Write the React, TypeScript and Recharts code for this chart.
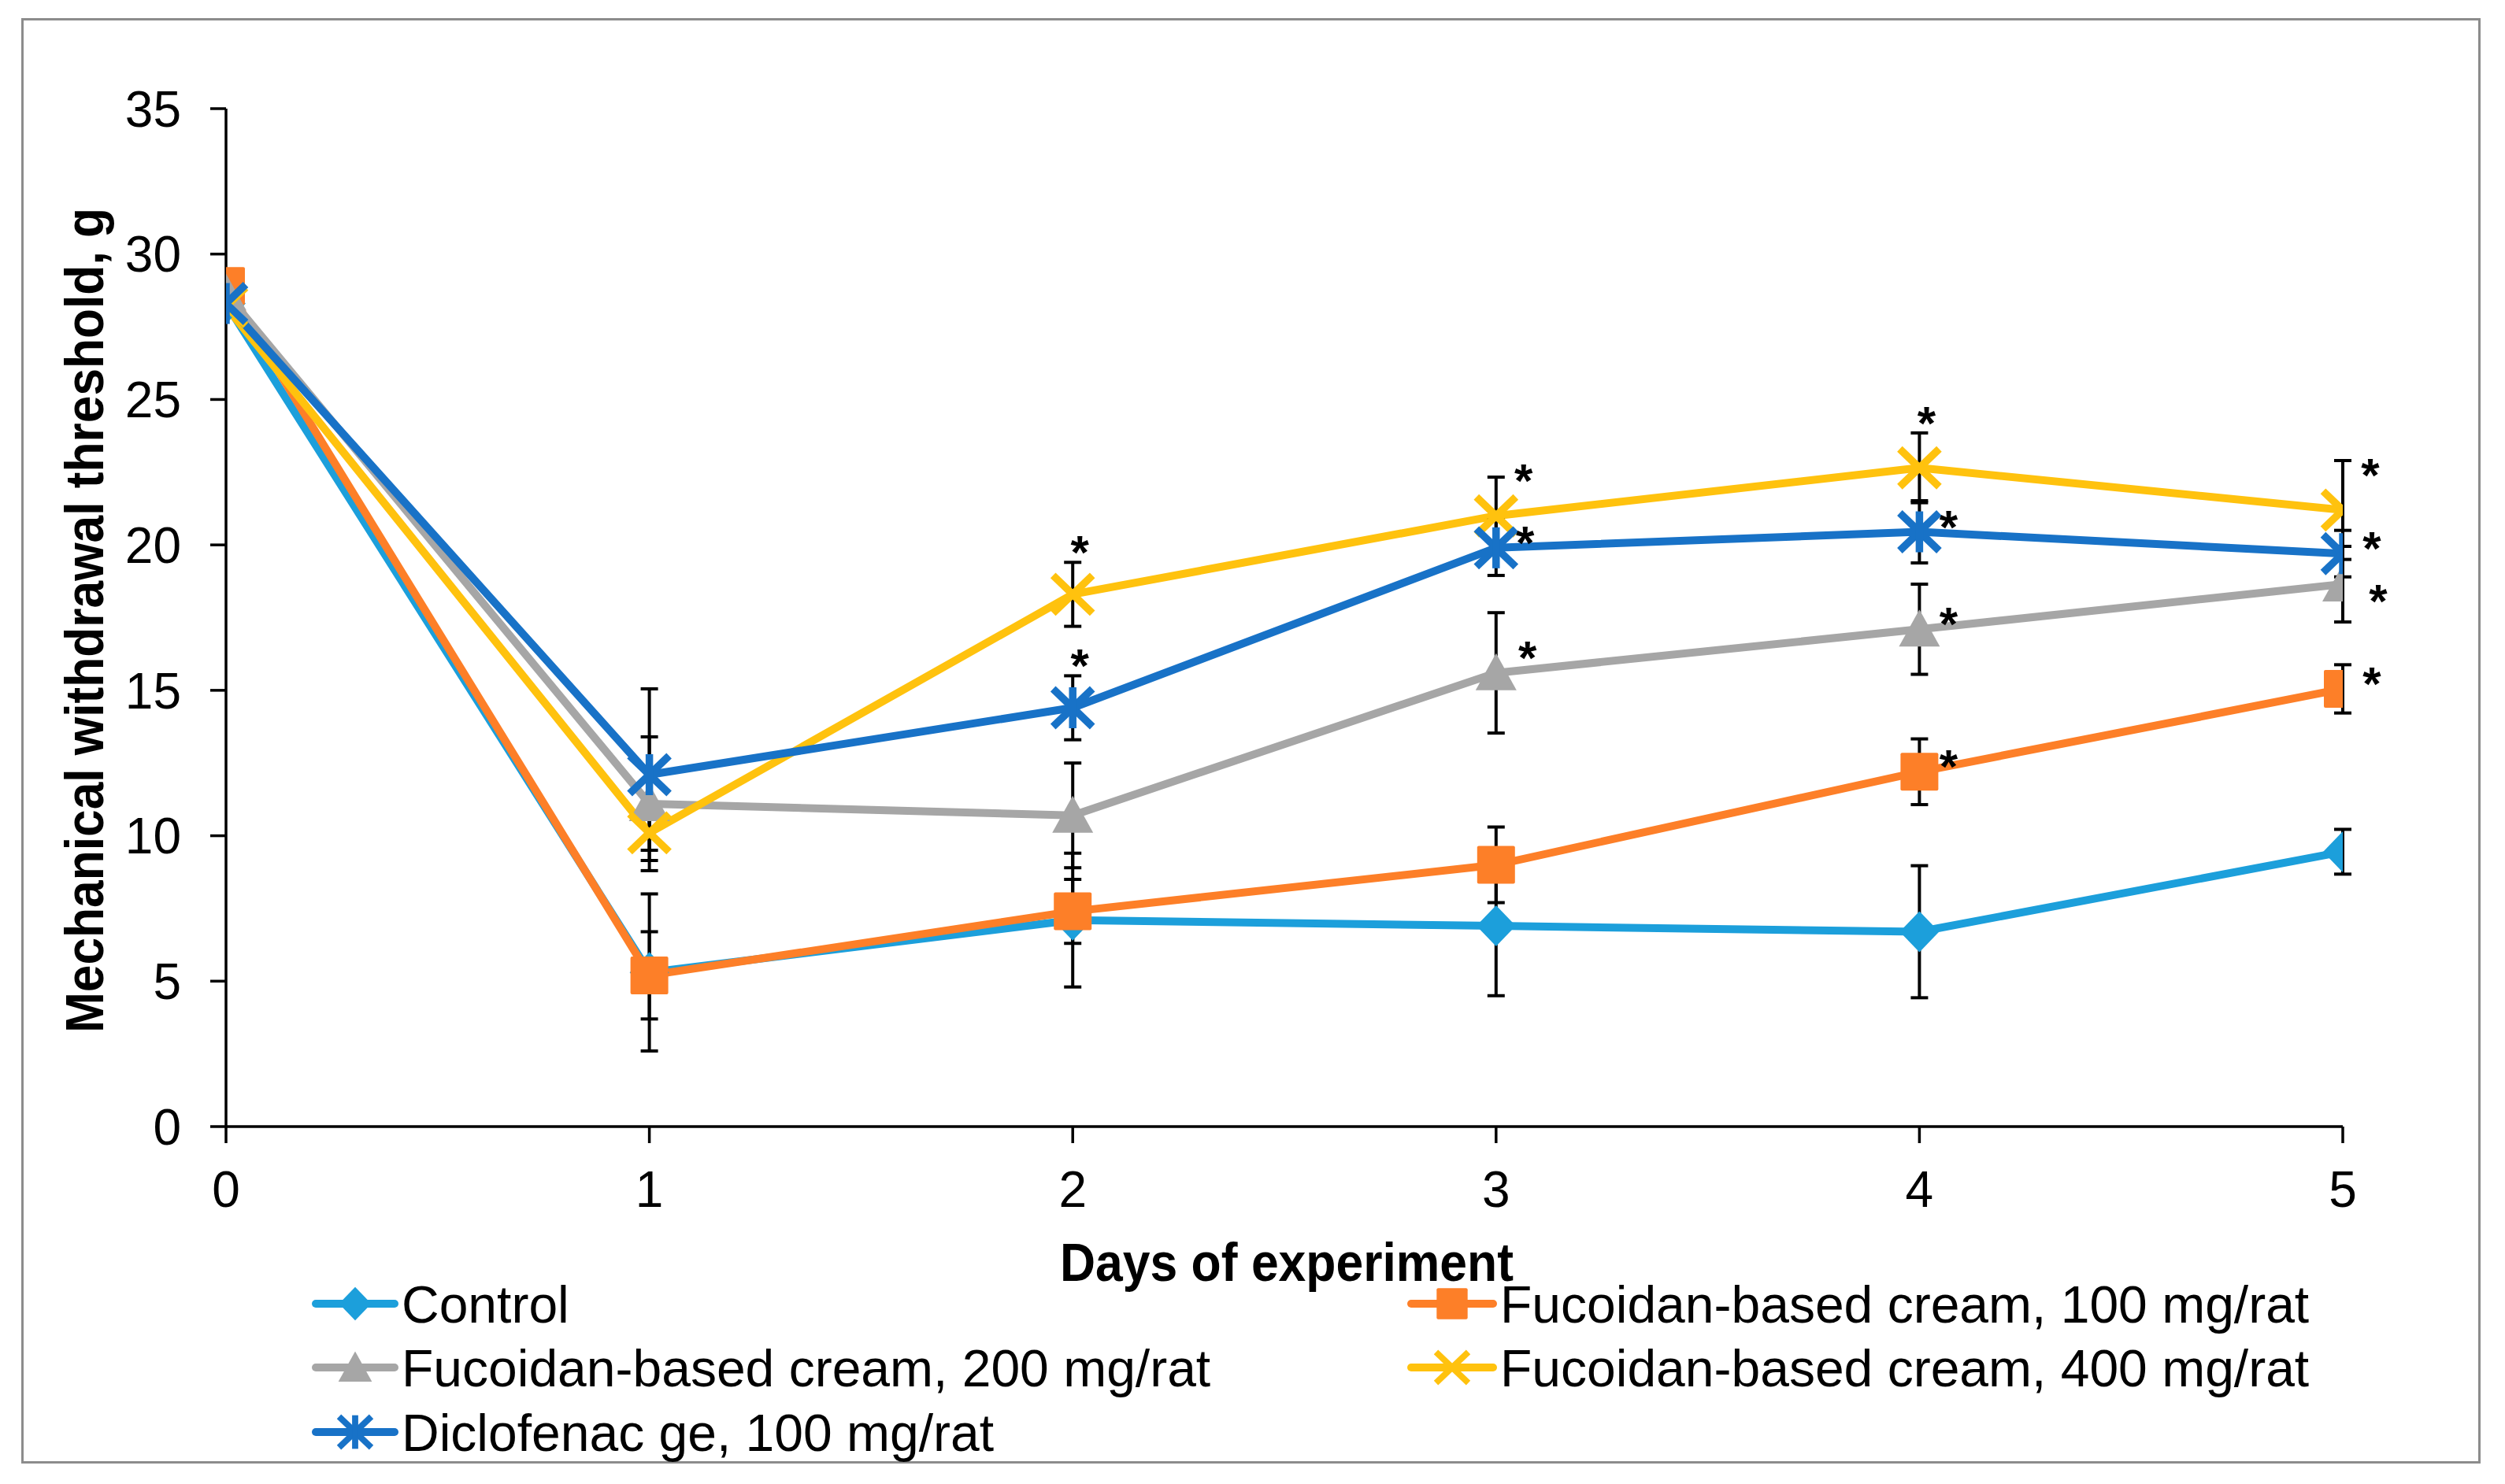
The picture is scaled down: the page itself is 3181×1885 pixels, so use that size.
import React from 'react';
import { LineChart, Line, XAxis, YAxis, ErrorBar, LabelList, Legend } from 'recharts';

// ---------- data ----------
const days = [0, 1, 2, 3, 4, 5];
const yTicks = [0, 5, 10, 15, 20, 25, 30, 35];

const seriesNames = [
  'Control',
  'Fucoidan-based cream, 100 mg/rat',
  'Fucoidan-based cream, 200 mg/rat',
  'Fucoidan-based cream, 400 mg/rat',
  'Diclofenac ge, 100 mg/rat',
];

const controlMean = [28.3, 5.3, 7.1, 6.9, 6.7, 9.45];
const controlSd = [0, 2.7, 2.3, 2.4, 2.27, 0.77];
const controlSig = [0, 0, 0, 0, 0, 0];

const cream100Mean = [28.9, 5.2, 7.4, 9.0, 12.2, 15.05];
const cream100Sd = [0, 1.5, 1.1, 1.3, 1.13, 0.83];
const cream100Sig = [0, 0, 0, 0, 1, 1];

const cream200Mean = [28.65, 11.1, 10.7, 15.6, 17.1, 18.65];
const cream200Sd = [0, 2.3, 1.8, 2.07, 1.55, 1.3];
const cream200Sig = [0, 0, 0, 1, 1, 1];

const cream400Mean = [28.2, 10.1, 18.3, 21.0, 22.65, 21.2];
const cream400Sd = [0, 0.6, 1.1, 1.33, 1.2, 1.7];
const cream400Sig = [0, 0, 1, 1, 1, 1];

const diclofenacMean = [28.3, 12.1, 14.4, 19.9, 20.45, 19.7];
const diclofenacSd = [0, 2.95, 1.1, 0.95, 1.07, 0.8];
const diclofenacSig = [0, 0, 1, 1, 1, 1];

const tableData = days.map((d, i) => ({
  day: d,
  control: controlMean[i],
  controlSd: controlSd[i],
  controlSig: controlSig[i],
  c100: cream100Mean[i],
  c100Sd: cream100Sd[i],
  c100Sig: cream100Sig[i],
  c200: cream200Mean[i],
  c200Sd: cream200Sd[i],
  c200Sig: cream200Sig[i],
  c400: cream400Mean[i],
  c400Sd: cream400Sd[i],
  c400Sig: cream400Sig[i],
  diclo: diclofenacMean[i],
  dicloSd: diclofenacSd[i],
  dicloSig: diclofenacSig[i],
}));

// ---------- style / layout ----------
const W = 3181;
const H = 1885;
const PLOT_LEFT = 287;
const PLOT_RIGHT = 2975;
const PLOT_TOP = 138;
const PLOT_BOTTOM = 1431;
const Y_AXIS_W = 200;
const X_AXIS_H = 100;
const PX_PER_UNIT = (PLOT_BOTTOM - PLOT_TOP) / 35;
const FONT = '"Liberation Sans", Arial, Helvetica, sans-serif';
const LINE_W = 10;
const MARK_W = 9.5;

type Shape = 'diamond' | 'square' | 'triangle' | 'x' | 'star';

const seriesStyle: { key: string; color: string; shape: Shape; star: string[] }[] = [
  { key: 'control', color: '#1C9FDB', shape: 'diamond', star: ['', '', '', '', '', ''] },
  { key: 'c100', color: '#FD7F28', shape: 'square', star: ['', '', '', '', 'right', 'right'] },
  { key: 'c200', color: '#A6A6A6', shape: 'triangle', star: ['', '', '', 'upright2', 'right', 'low'] },
  { key: 'c400', color: '#FFC20E', shape: 'x', star: ['', '', 'top', 'upright', 'top', 'upright'] },
  { key: 'diclo', color: '#1872C7', shape: 'star', star: ['', '', 'top', 'right', 'right', 'right'] },
];

function marker(shape: Shape, cx: number, cy: number, color: string, s: number, key?: string) {
  if (cx == null || cy == null || isNaN(cx) || isNaN(cy)) return <g key={key} />;
  switch (shape) {
    case 'diamond':
      return (
        <polygon
          key={key}
          points={`${cx},${cy - 26 * s} ${cx + 25 * s},${cy} ${cx},${cy + 26 * s} ${cx - 25 * s},${cy}`}
          fill={color}
        />
      );
    case 'square':
      return <rect key={key} x={cx - 24 * s} y={cy - 24 * s} width={48 * s} height={48 * s} rx={2} fill={color} />;
    case 'triangle':
      return (
        <polygon
          key={key}
          points={`${cx},${cy - 25 * s} ${cx + 26 * s},${cy + 22 * s} ${cx - 26 * s},${cy + 22 * s}`}
          fill={color}
        />
      );
    case 'x':
      return (
        <g key={key} stroke={color} strokeWidth={MARK_W * s}>
          <line x1={cx - 25 * s} y1={cy - 24 * s} x2={cx + 25 * s} y2={cy + 24 * s} />
          <line x1={cx - 25 * s} y1={cy + 24 * s} x2={cx + 25 * s} y2={cy - 24 * s} />
        </g>
      );
    case 'star':
    default:
      return (
        <g key={key} stroke={color} strokeWidth={MARK_W * s}>
          <line x1={cx - 25 * s} y1={cy - 24 * s} x2={cx + 25 * s} y2={cy + 24 * s} />
          <line x1={cx - 25 * s} y1={cy + 24 * s} x2={cx + 25 * s} y2={cy - 24 * s} />
          <line x1={cx} y1={cy - 26 * s} x2={cx} y2={cy + 26 * s} />
        </g>
      );
  }
}

const makeDot = (shape: Shape, color: string) => (props: any) => {
  const { cx, cy, index } = props;
  return marker(shape, cx, cy, color, 1, `dot-${shape}-${index}`);
};

const makeStar = (sig: number[], sd: number[], place: string[]) => (props: any) => {
  const index = props.index;
  const x = props.x ?? props.viewBox?.x;
  const y = props.y ?? props.viewBox?.y;
  if (index == null || !sig[index] || x == null || y == null) return null;
  const p = place[index];
  let cx = x + 37;
  let cy = y - 20;
  if (p === 'top') {
    cx = x + 9;
    cy = y - sd[index] * PX_PER_UNIT - 26;
  } else if (p === 'upright') {
    cx = x + 35;
    cy = y - 58;
  } else if (p === 'upright2') {
    cx = x + 40;
    cy = y - 33;
  } else if (p === 'low') {
    cx = x + 45;
    cy = y + 8;
  }
  return (
    <text
      key={`star-${index}`}
      x={cx}
      y={cy + 34}
      textAnchor="middle"
      fontSize={60}
      fontWeight="bold"
      fontFamily={FONT}
      fill="#000"
    >
      *
    </text>
  );
};

const legendSlots = [
  { x1: 401, x2: 501, mx: 451, tx: 510, row: 0 },
  { x1: 1792, x2: 1896, mx: 1844, tx: 1905, row: 0 },
  { x1: 401, x2: 501, mx: 451, tx: 510, row: 1 },
  { x1: 1792, x2: 1896, mx: 1844, tx: 1905, row: 1 },
  { x1: 401, x2: 501, mx: 451, tx: 510, row: 2 },
];
const LEGEND_TOP = 1600;
const legendRows = [1656, 1737, 1819];

const renderLegend = (props: any) => {
  const payload: any[] = props.payload || [];
  return (
    <svg width={W} height={H - LEGEND_TOP} style={{ display: 'block' }}>
      {seriesStyle.map((st, i) => {
        const slot = legendSlots[i];
        const item = payload.find((p) => p && p.dataKey === st.key);
        const label = item && item.value != null ? item.value : seriesNames[i];
        const y = legendRows[slot.row] - LEGEND_TOP;
        return (
          <g key={`leg-${i}`}>
            <line x1={slot.x1} y1={y} x2={slot.x2} y2={y} stroke={st.color} strokeWidth={LINE_W} strokeLinecap="round" />
            {marker(st.shape, slot.mx, y, st.color, 0.82)}
            <text x={slot.tx} y={y + 24} fontSize={66} fontFamily={FONT} fill="#000">
              {label}
            </text>
          </g>
        );
      })}
    </svg>
  );
};

const renderYLabel = () => (
  <text
    x={131}
    y={788}
    transform="rotate(-90, 131, 788)"
    textAnchor="middle"
    fontSize={68}
    fontWeight="bold"
    fontFamily={FONT}
    fill="#000"
    textLength={1048}
    lengthAdjust="spacingAndGlyphs"
  >
    Mechanical withdrawal threshold, g
  </text>
);

const renderXLabel = () => (
  <text
    x={1634}
    y={1627}
    textAnchor="middle"
    fontSize={68}
    fontWeight="bold"
    fontFamily={FONT}
    fill="#000"
    textLength={576}
    lengthAdjust="spacingAndGlyphs"
  >
    Days of experiment
  </text>
);

const sdKeys = ['controlSd', 'c100Sd', 'c200Sd', 'c400Sd', 'dicloSd'];
const sigKeys = ['controlSig', 'c100Sig', 'c200Sig', 'c400Sig', 'dicloSig'];
const sdArrays = [controlSd, cream100Sd, cream200Sd, cream400Sd, diclofenacSd];
const sigArrays = [controlSig, cream100Sig, cream200Sig, cream400Sig, diclofenacSig];

export default function App() {
  return (
    <div style={{ position: 'absolute', left: 0, top: 0, width: W, height: H, background: '#fff' }}>
      <div
        style={{
          position: 'absolute',
          left: 27,
          top: 23,
          width: 3123,
          height: 1836,
          border: '3px solid #8C8C8C',
          boxSizing: 'border-box',
        }}
      />
      <div style={{ position: 'absolute', left: 0, top: 0 }}>
        <LineChart
          width={W}
          height={H}
          data={tableData}
          margin={{
            top: PLOT_TOP,
            left: PLOT_LEFT - Y_AXIS_W,
            right: W - PLOT_RIGHT,
            bottom: H - PLOT_BOTTOM - X_AXIS_H,
          }}
        >
          <XAxis
            dataKey="day"
            type="number"
            domain={[0, 5]}
            ticks={days}
            height={X_AXIS_H}
            axisLine={{ stroke: '#000', strokeWidth: 3.5 }}
            tickLine={{ stroke: '#000', strokeWidth: 3.5 }}
            tickSize={21}
            tickMargin={36}
            tick={{ fontSize: 64, fontFamily: FONT, fill: '#000' }}
            label={renderXLabel}
            allowDataOverflow
          />
          <YAxis
            type="number"
            domain={[0, 35]}
            ticks={yTicks}
            width={Y_AXIS_W}
            axisLine={{ stroke: '#000', strokeWidth: 3.5 }}
            tickLine={{ stroke: '#000', strokeWidth: 3.5 }}
            tickSize={20}
            tickMargin={37}
            tick={{ fontSize: 64, fontFamily: FONT, fill: '#000' }}
            label={renderYLabel}
            allowDataOverflow
          />
          <Legend
            layout="horizontal"
            verticalAlign="middle"
            align="center"
            content={renderLegend}
            wrapperStyle={{ position: 'absolute', left: 0, top: LEGEND_TOP, width: W, height: H - LEGEND_TOP }}
          />
          {seriesStyle.map((st, i) => (
            <Line
              key={st.key}
              name={seriesNames[i]}
              dataKey={st.key}
              type="linear"
              stroke={st.color}
              strokeWidth={LINE_W}
              strokeLinejoin="round"
              dot={makeDot(st.shape, st.color)}
              activeDot={false}
              isAnimationActive={false}
            >
              <ErrorBar dataKey={sdKeys[i]} direction="y" width={11} stroke="#000" strokeWidth={4} />
              <LabelList dataKey={sigKeys[i]} content={makeStar(sigArrays[i], sdArrays[i], st.star)} />
            </Line>
          ))}
        </LineChart>
      </div>
    </div>
  );
}
